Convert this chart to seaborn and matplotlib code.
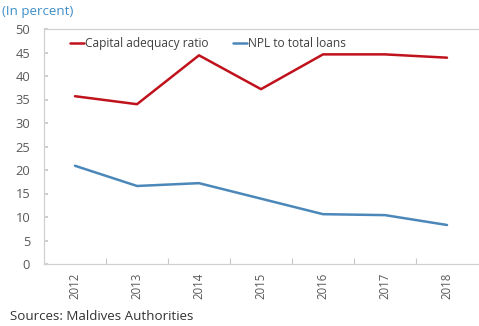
import matplotlib
matplotlib.use("Agg")
import matplotlib.pyplot as plt
from matplotlib.ticker import FixedLocator
import seaborn as sns
import pandas as pd

years = ["2012", "2013", "2014", "2015", "2016", "2017", "2018"]
capital_adequacy = [35.7, 34.0, 44.4, 37.2, 44.6, 44.6, 43.9]
npl_to_loans = [20.9, 16.6, 17.2, 13.9, 10.6, 10.4, 8.3]
series_names = ["Capital adequacy ratio", "NPL to total loans"]

df = pd.DataFrame({
    "year": years * 2,
    "value": capital_adequacy + npl_to_loans,
    "series": [series_names[0]] * len(years) + [series_names[1]] * len(years),
})

sns.set_theme(style="white")
plt.rcParams["font.family"] = ["Open Sans", "DejaVu Sans"]

fig = plt.figure(figsize=(4.79, 3.26), dpi=100)
ax = fig.add_axes([44 / 479, 62 / 326, 434 / 479, 235 / 326])

palette = {series_names[0]: "#c0121c", series_names[1]: "#4b87b9"}
sns.lineplot(data=df, x="year", y="value", hue="series", palette=palette,
             linewidth=1.8, sort=False, ax=ax)

ax.set_xlim(-0.5, len(years) - 0.5)
ax.set_ylim(0, 50)
ax.set_yticks(range(0, 51, 5))
ax.set_xlabel("")
ax.set_ylabel("")

grey = "#595959"
ax.tick_params(axis="x", which="major", length=0, labelrotation=90,
               labelsize=8.3, labelcolor=grey, pad=6)
ax.xaxis.set_minor_locator(FixedLocator([i + 0.5 for i in range(len(years) - 1)]))
ax.tick_params(axis="x", which="minor", direction="in", length=4,
               color="#c8c8c8", width=0.8, bottom=True)
ax.tick_params(axis="y", direction="in", length=3, color="#c8c8c8",
               labelsize=9.3, labelcolor=grey, pad=10, left=True)

for side in ["left", "top", "bottom"]:
    ax.spines[side].set_color("#d0d0d0")
    ax.spines[side].set_linewidth(0.9)
ax.spines["right"].set_visible(False)

leg = ax.legend(loc="upper left", frameon=False, ncol=2, fontsize=8.6,
                handlelength=1.2, handletextpad=0.1, columnspacing=2.0,
                bbox_to_anchor=(0.04, 1.0), borderaxespad=0.3)
for t in leg.get_texts():
    t.set_color("#404040")

fig.text(2 / 479, 1 - 12 / 326, "(In percent)", color="#3d8fc9",
         fontsize=9.6, va="center", ha="left")
fig.text(10 / 479, 1 - 316 / 326, "Sources: Maldives Authorities",
         color="#333333", fontsize=9.6, va="center", ha="left")

fig.savefig("out.png", dpi=100)
